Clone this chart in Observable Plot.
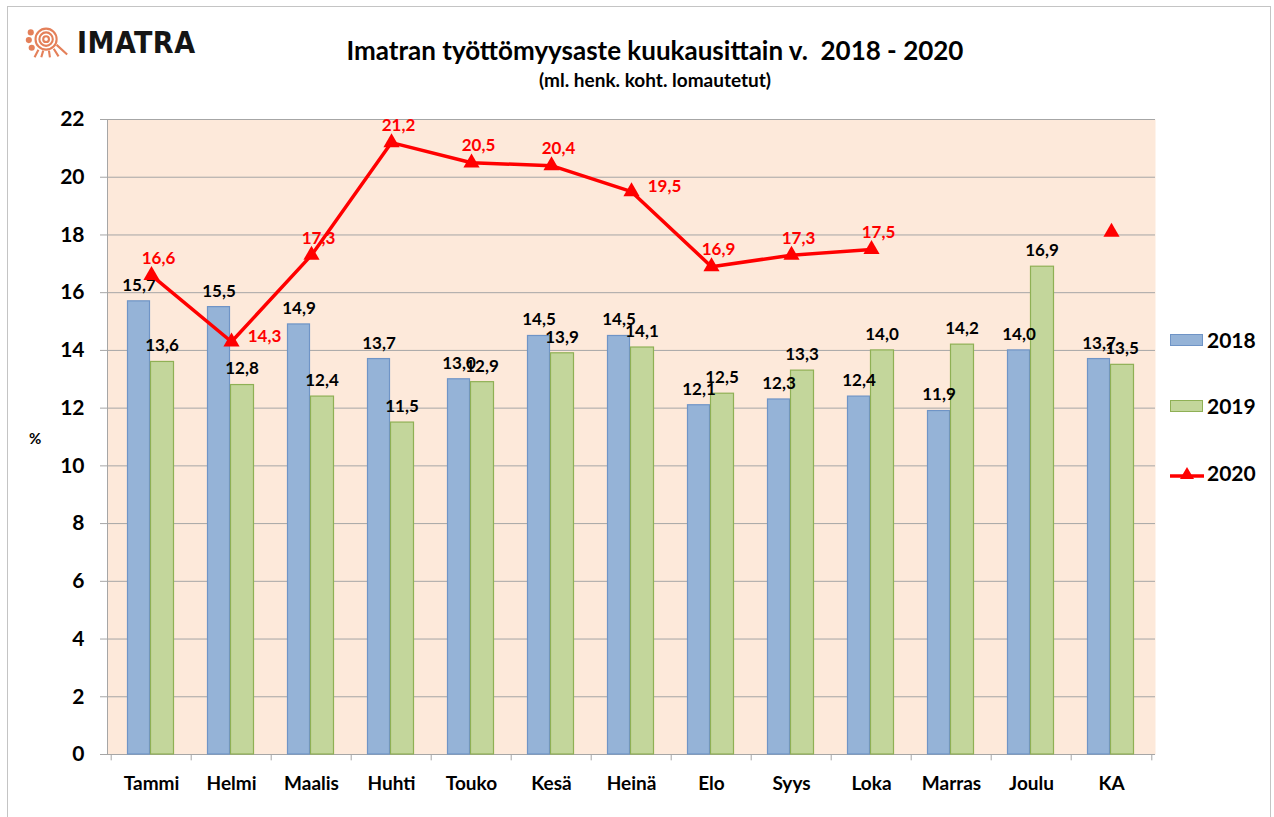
<!DOCTYPE html>
<html>
<head>
<meta charset="utf-8">
<script src="https://cdn.jsdelivr.net/npm/d3@7"></script>
<script src="https://cdn.jsdelivr.net/npm/@observablehq/plot@0.6"></script>
<style>
  body { margin: 0; background: #fff; font-family: Lato, "Open Sans", sans-serif; }
  #wrap { position: relative; width: 1274px; height: 817px; overflow: hidden; background: #fff; }
  #border { position: absolute; left: 7px; top: 6px; width: 1264px; height: 830px; border: 1px solid #c4c4c4; box-sizing: border-box; }
  #chart { position: absolute; left: 0; top: 0; }
  .title { position: absolute; left: 0; width: 1310px; text-align: center; font-weight: bold; color: #000; }
  #t1 { top: 34px; font-size: 26px; }
  #t2 { top: 68px; font-size: 19px; }
  #pct { position: absolute; left: 29px; top: 429px; font-size: 15px; font-weight: bold; }
  .leg { position: absolute; left: 1170px; display: flex; align-items: center; font-size: 21px; font-weight: bold; }
  .sw { width: 33px; height: 12px; box-sizing: border-box; margin-right: 4px; }
  #logo { position: absolute; left: 25px; top: 24px; display: flex; align-items: center; }
  #logo span { font-family: "DejaVu Sans Condensed", "DejaVu Sans", sans-serif; font-stretch: condensed; font-weight: bold; font-size: 30px; letter-spacing: 0.5px; color: #151515; margin-left: 6px; }
</style>
</head>
<body>
<div id="wrap">
  <div id="border"></div>
  <div id="logo">
    <svg width="46" height="36" viewBox="0 0 48 36">
      <g fill="none" stroke="#e4805a" stroke-width="2.2">
        <circle cx="22" cy="15" r="11"/>
        <circle cx="22" cy="15" r="7"/>
        <circle cx="22" cy="15" r="3"/>
        <path d="M14 26 L10 34 M19 27 L17 34 M25 27 L26 34 M30 25 L35 33 M33 21 L44 31"/>
      </g>
      <g fill="#e4805a">
        <circle cx="6" cy="8" r="3.2"/>
        <circle cx="4" cy="16" r="3.2"/>
        <circle cx="7" cy="24" r="3.2"/>
      </g>
    </svg>
    <span>IMATRA</span>
  </div>
  <div class="title" id="t1">Imatran työttömyysaste kuukausittain v.&nbsp; 2018 - 2020</div>
  <div class="title" id="t2">(ml. henk. koht. lomautetut)</div>
  <div id="pct">%</div>
  <div id="chart"></div>
  <div class="leg" style="top:327px"><div class="sw" style="background:#95b3d7;border:1px solid #6f94c6"></div>2018</div>
  <div class="leg" style="top:393px"><div class="sw" style="background:#c3d69b;border:1px solid #8fb055"></div>2019</div>
  <div class="leg" style="top:460px">
    <svg width="37" height="20" viewBox="0 0 37 20" style="margin-right:0px">
      <line x1="0" y1="13" x2="34" y2="13" stroke="red" stroke-width="3.5"/>
      <path d="M17 4 L24 16 L10 16 Z" fill="red"/>
    </svg>2020</div>
</div>
<script>
const months = ["Tammi","Helmi","Maalis","Huhti","Touko","Kesä","Heinä","Elo","Syys","Loka","Marras","Joulu","KA"];
const values2018 = [15.7,15.5,14.9,13.7,13.0,14.5,14.5,12.1,12.3,12.4,11.9,14.0,13.7];
const values2019 = [13.6,12.8,12.4,11.5,12.9,13.9,14.1,12.5,13.3,14.0,14.2,16.9,13.5];
const values2020 = [16.6,14.3,17.3,21.2,20.5,20.4,19.5,16.9,17.3,17.5,null,null,18.1];
const yTicks = [0,2,4,6,8,10,12,14,16,18,20,22];
const unlabelled2020 = ["KA"];
const rightLabelled2020 = ["Helmi","Heinä"];

const d2018 = months.map((m,i) => ({month: m, value: values2018[i]}));
const d2019 = months.map((m,i) => ({month: m, value: values2019[i]}));
const d2020 = months.map((m,i) => ({month: m, value: values2020[i]}));
const pts2020 = d2020.filter(d => d.value != null);
const lab2020 = pts2020.filter(d => !unlabelled2020.includes(d.month));
const fmt = v => d3.format(".1f")(v).replace(".", ",");

const left = 107, right = 1155;
const bw = (right - left) / months.length;
const lbl = {fontSize: 17, fontWeight: "bold", fontFamily: "Lato, sans-serif"};
const grey = "#a6a6a6";

const chart = Plot.plot({
  width: 1274, height: 817,
  marginLeft: left, marginRight: 1274 - right, marginTop: 119, marginBottom: 63,
  style: {fontFamily: "Lato, sans-serif", background: "transparent", color: "#000", overflow: "visible"},
  x: {type: "band", domain: months, padding: 0, label: null},
  y: {domain: [0, 22], label: null},
  marks: [
    Plot.frame({fill: "#fde9da", stroke: null}),
    Plot.gridY(yTicks, {stroke: grey, strokeOpacity: 1, strokeWidth: 1}),
    Plot.axisY(yTicks, {tickSize: 7, tickPadding: 16, fontSize: 21, fontWeight: "bold", stroke: grey, label: null, tickFormat: d => d}),
    Plot.axisX({tickSize: 0, tickPadding: 22, fontSize: 19, fontWeight: "bold", label: null}),
    Plot.ruleX(months, {x: d => d, dx: -bw / 2, y1: 0, y2: -0.22, stroke: grey}),
    Plot.ruleX([months[months.length - 1]], {x: d => d, dx: bw / 2, y1: 0, y2: -0.22, stroke: grey}),
    Plot.frame({anchor: "left", stroke: grey}),
    Plot.ruleY([0], {stroke: grey}),
    Plot.barY(d2018, {x: "month", y: "value", fill: "#95b3d7", stroke: "#6f94c6", strokeWidth: 1.2, insetLeft: 16.5, insetRight: 41.5}),
    Plot.barY(d2019, {x: "month", y: "value", fill: "#c3d69b", stroke: "#8fb055", strokeWidth: 1.2, insetLeft: 39.5, insetRight: 17.5}),
    Plot.text(d2018, {x: "month", y: "value", text: d => fmt(d.value), dx: -12.5, dy: -16, fill: "#000", ...lbl}),
    Plot.text(d2019, {x: "month", y: "value", text: d => fmt(d.value), dx: 10.5, dy: -16, fill: "#000", ...lbl}),
    Plot.line(d2020, {x: "month", y: "value", stroke: "#ff0000", strokeWidth: 3.5}),
    Plot.dot(pts2020, {x: "month", y: "value", symbol: "triangle", r: 6, fill: "#ff0000"}),
    Plot.text(lab2020.filter(d => !rightLabelled2020.includes(d.month)), {x: "month", y: "value", text: d => fmt(d.value), dx: 7, dy: -17, fill: "#ff0000", ...lbl}),
    Plot.text(lab2020.filter(d => rightLabelled2020.includes(d.month)), {x: "month", y: "value", text: d => fmt(d.value), dx: 33, dy: -5, fill: "#ff0000", ...lbl})
  ]
});
document.getElementById("chart").appendChild(chart);
</script>
</body>
</html>
